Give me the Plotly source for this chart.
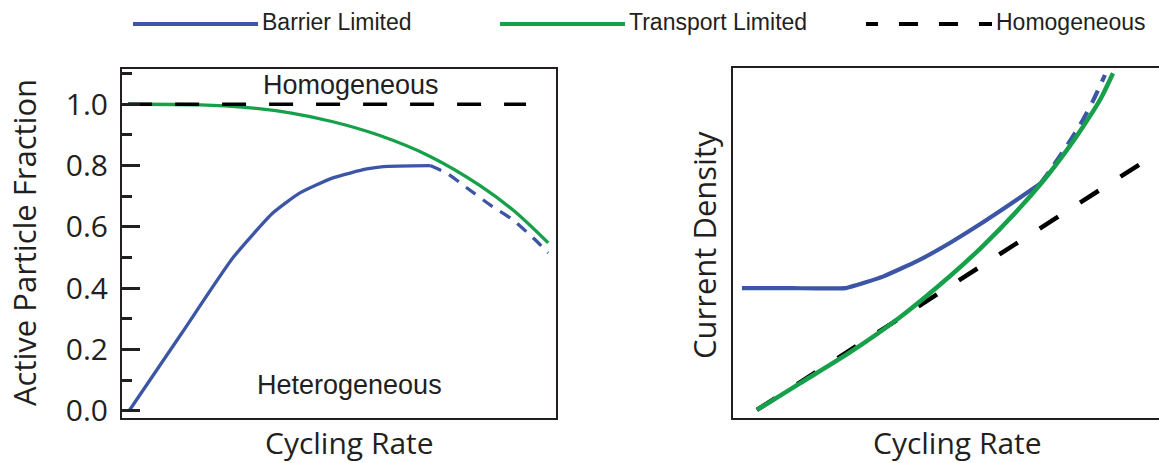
import plotly.graph_objects as go
from plotly.subplots import make_subplots

W, H = 1159, 463

# ---------------- data (arbitrary units) ----------------
# Left panel: Active particle fraction vs cycling rate
left_barrier_x = [0.16, 1.36, 2.56, 3.48, 4.10, 4.86, 5.64, 6.02, 7.10]
left_barrier_y = [0.0, 0.25, 0.50, 0.646, 0.711, 0.760, 0.789, 0.797, 0.800]
left_barrier_ext_x = [7.10, 7.49, 7.95, 8.48, 9.01, 9.52, 9.82]
left_barrier_ext_y = [0.800, 0.775, 0.727, 0.672, 0.623, 0.558, 0.515]
left_transport_x = [0.14, 1.80, 2.83, 3.87, 4.86, 5.94, 7.10, 8.25, 9.01, 9.82]
left_transport_y = [1.0, 0.998, 0.99, 0.972, 0.943, 0.898, 0.830, 0.735, 0.655, 0.548]
left_homog_x = [0.14, 9.31]
left_homog_y = [1.0, 1.0]

# Right panel: Current density vs cycling rate
right_barrier_x = [0.21, 1.40, 2.63, 3.52, 4.32, 5.09, 5.87, 6.67, 7.21]
right_barrier_y = [3.71, 3.71, 3.71, 4.04, 4.48, 5.00, 5.59, 6.24, 6.69]
right_barrier_ext_x = [7.21, 7.44, 7.79, 8.15, 8.45, 8.73]
right_barrier_ext_y = [6.69, 7.07, 7.69, 8.38, 9.06, 9.80]
right_transport_x = [0.56, 1.57, 2.75, 3.92, 5.09, 5.87, 6.67, 7.28, 7.84, 8.22, 8.62, 8.92]
right_transport_y = [0.23, 0.99, 1.88, 2.88, 4.05, 4.92, 5.92, 6.77, 7.66, 8.33, 9.10, 9.85]
right_homog_x = [0.56, 10.0]
right_homog_y = [0.23, 7.60]

y_ticks = [0.0, 0.2, 0.4, 0.6, 0.8, 1.0]
y_tick_labels = ["0.0", "0.2", "0.4", "0.6", "0.8", "1.0"]
y_minor_ticks = [0.1, 0.3, 0.5, 0.7, 0.9, 1.1]

series_names = ["Barrier Limited", "Transport Limited", "Homogeneous"]

# ---------------- styles ----------------
BLUE = "#3c55a5"
GREEN = "#17a04a"
BLACK = "#000000"
TXT = "#231f20"
FRAME = "#231f20"

fig = make_subplots(rows=1, cols=2)

# left panel traces (black dashed drawn on top)
fig.add_trace(go.Scatter(x=left_barrier_x, y=left_barrier_y, mode="lines",
                         line=dict(color=BLUE, width=3.3, shape="spline", smoothing=0.5),
                         showlegend=False), row=1, col=1)
fig.add_trace(go.Scatter(x=left_barrier_ext_x, y=left_barrier_ext_y, mode="lines",
                         line=dict(color=BLUE, width=3.3, dash="12px,9px", shape="spline", smoothing=0.5),
                         showlegend=False), row=1, col=1)
fig.add_trace(go.Scatter(x=left_transport_x, y=left_transport_y, mode="lines",
                         line=dict(color=GREEN, width=3.3, shape="spline", smoothing=1.0),
                         showlegend=False), row=1, col=1)
fig.add_trace(go.Scatter(x=left_homog_x, y=left_homog_y, mode="lines",
                         line=dict(color=BLACK, width=3.5, dash="24px,23px"),
                         showlegend=False), row=1, col=1)

# right panel traces (green drawn over black)
fig.add_trace(go.Scatter(x=right_homog_x, y=right_homog_y, mode="lines",
                         line=dict(color=BLACK, width=4.5, dash="22px,26px"),
                         showlegend=False), row=1, col=2)
fig.add_trace(go.Scatter(x=right_barrier_x, y=right_barrier_y, mode="lines",
                         line=dict(color=BLUE, width=4.2, shape="spline", smoothing=0.3),
                         showlegend=False), row=1, col=2)
fig.add_trace(go.Scatter(x=right_barrier_ext_x, y=right_barrier_ext_y, mode="lines",
                         line=dict(color=BLUE, width=4.2, dash="14px,10px", shape="spline", smoothing=0.6),
                         showlegend=False), row=1, col=2)
fig.add_trace(go.Scatter(x=right_transport_x, y=right_transport_y, mode="lines",
                         line=dict(color=GREEN, width=4.5, shape="spline", smoothing=0.8),
                         showlegend=False), row=1, col=2)

# ---------------- axes ----------------
L0, L1 = 122 / W, 556 / W
R0, R1 = 733 / W, 1.0
fig.update_xaxes(domain=[L0, L1], range=[0, 10], showline=True, mirror=True,
                 linecolor=FRAME, linewidth=2, showgrid=False, zeroline=False,
                 showticklabels=False, ticks="", automargin=False, row=1, col=1)
fig.update_yaxes(domain=[1 - 418 / H, 1 - 69 / H], range=[-0.023, 1.115],
                 showline=True, mirror=True, linecolor=FRAME, linewidth=2,
                 showgrid=False, zeroline=False, automargin=False,
                 tickmode="array", tickvals=y_ticks, ticktext=y_tick_labels,
                 ticks="inside", ticklen=18, tickwidth=2.5, tickcolor=FRAME,
                 minor=dict(ticks="inside", ticklen=10, tickwidth=2.5, tickcolor=FRAME,
                            tickmode="array", tickvals=y_minor_ticks),
                 tickfont=dict(family="Open Sans", size=30, color=TXT),
                 ticklabelstandoff=6,
                 row=1, col=1)
fig.update_xaxes(domain=[R0, R1], range=[0, 10], showline=True, mirror=True,
                 linecolor=FRAME, linewidth=2, showgrid=False, zeroline=False,
                 showticklabels=False, ticks="", automargin=False, row=1, col=2)
fig.update_yaxes(domain=[1 - 418 / H, 1 - 68 / H], range=[0, 10],
                 showline=True, mirror=False, linecolor=FRAME, linewidth=2,
                 showgrid=False, zeroline=False, showticklabels=False, ticks="",
                 automargin=False, row=1, col=2)

# ---------------- annotations ----------------
ann = []
def px(xp):
    return xp / W
def py(yp):
    return 1 - yp / H

title_font = dict(family="Open Sans", size=31, color=TXT)
xtitle_font = dict(family="Open Sans", size=30, color=TXT)
ann.append(dict(text="Active Particle Fraction", x=px(24), y=py(243), xref="paper", yref="paper",
                textangle=-90, showarrow=False, font=title_font, xanchor="center", yanchor="middle"))
ann.append(dict(text="Current Density", x=px(704), y=py(245), xref="paper", yref="paper",
                textangle=-90, showarrow=False, font=title_font, xanchor="center", yanchor="middle"))
ann.append(dict(text="Cycling Rate", x=px(349), y=py(442), xref="paper", yref="paper",
                showarrow=False, font=xtitle_font, xanchor="center", yanchor="middle"))
ann.append(dict(text="Cycling Rate", x=px(957), y=py(442), xref="paper", yref="paper",
                showarrow=False, font=xtitle_font, xanchor="center", yanchor="middle"))

label_font = dict(family="Liberation Sans, Arial", size=27, color=TXT)
ann.append(dict(text="Homogeneous", x=5.28, y=1.063, xref="x", yref="y",
                showarrow=False, font=label_font, xanchor="center", yanchor="middle"))
ann.append(dict(text="Heterogeneous", x=5.25, y=0.085, xref="x", yref="y",
                showarrow=False, font=label_font, xanchor="center", yanchor="middle"))

# manual legend
legend_font = dict(family="Liberation Sans, Arial", size=23, color=TXT)
legend_items = [
    (series_names[0], 133, 258, BLUE, "solid"),
    (series_names[1], 500, 625, GREEN, "solid"),
    (series_names[2], 866, 992, BLACK, "12px,21px,19px,21px,19px,21px,14px"),
]
shapes = []
for name, x0, x1, col, dash in legend_items:
    shapes.append(dict(type="line", xref="paper", yref="paper",
                       x0=px(x0), x1=px(x1), y0=py(24), y1=py(24),
                       line=dict(color=col, width=4, dash=dash)))
    ann.append(dict(text=name, x=px(x1 + 2), y=py(22), xref="paper", yref="paper",
                    showarrow=False, font=legend_font, xanchor="left", yanchor="middle"))

fig.update_layout(width=W, height=H, margin=dict(l=0, r=0, t=0, b=0, autoexpand=False),
                  paper_bgcolor="white", plot_bgcolor="white",
                  annotations=ann, shapes=shapes, showlegend=False)

fig.write_html("out.html", config={"displayModeBar": False},
               post_script="document.body.style.margin='0';document.body.style.overflow='hidden';")
